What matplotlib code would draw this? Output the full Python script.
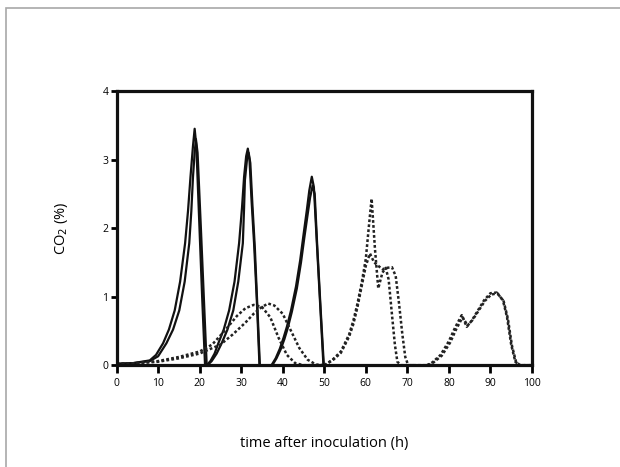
import matplotlib
matplotlib.use("Agg")
import matplotlib.pyplot as plt
from matplotlib.patches import Rectangle

# solid curves (three peaks, two runs each)
solid_a1_x = [0, 4, 8, 9.5, 11.2, 12.6, 14.0, 15.3, 16.5, 17.2, 17.8, 18.4, 18.8, 19.2, 19.9, 20.6, 21.3]
solid_a1_y = [0.02, 0.03, 0.07, 0.15, 0.32, 0.52, 0.8, 1.22, 1.78, 2.25, 2.75, 3.2, 3.45, 3.2, 2.1, 1.0, 0.0]
solid_a2_x = [0, 4, 8, 10, 12.0, 13.6, 15.1, 16.4, 17.5, 18.0, 18.4, 18.8, 19.1, 19.5, 20.3, 21.0, 21.7]
solid_a2_y = [0.02, 0.03, 0.06, 0.13, 0.32, 0.52, 0.8, 1.22, 1.78, 2.25, 2.75, 3.1, 3.3, 3.1, 2.0, 1.0, 0.0]

solid_b1_x = [21.7, 22.6, 23.6, 24.5, 25.8, 27.1, 28.4, 29.5, 30.2, 30.7, 31.2, 31.6, 32.0, 32.5, 33.1, 33.8, 34.4]
solid_b1_y = [0.0, 0.06, 0.17, 0.32, 0.52, 0.8, 1.22, 1.78, 2.3, 2.75, 3.05, 3.16, 3.0, 2.4, 1.78, 0.9, 0.0]
solid_b2_x = [21.9, 22.9, 24.1, 25.3, 26.7, 28.1, 29.3, 30.4, 30.7, 30.9, 31.4, 31.8, 32.2, 32.7, 33.3, 33.9, 34.5]
solid_b2_y = [0.0, 0.06, 0.17, 0.32, 0.52, 0.8, 1.22, 1.78, 2.3, 2.7, 3.0, 3.1, 2.95, 2.35, 1.7, 0.85, 0.0]

solid_c1_x = [37.3, 38.3, 39.3, 40.2, 41.0, 42.0, 43.2, 44.2, 45.0, 45.8, 46.4, 47.0, 47.5, 48.2, 49.0, 49.8]
solid_c1_y = [0.0, 0.1, 0.24, 0.4, 0.56, 0.8, 1.15, 1.53, 1.9, 2.26, 2.55, 2.75, 2.6, 1.8, 0.9, 0.0]
solid_c2_x = [37.5, 38.5, 39.5, 40.4, 41.2, 42.2, 43.4, 44.4, 45.2, 46.0, 46.6, 47.2, 47.7, 48.3, 49.1, 49.9]
solid_c2_y = [0.0, 0.1, 0.23, 0.38, 0.54, 0.78, 1.12, 1.5, 1.86, 2.2, 2.45, 2.62, 2.5, 1.75, 0.85, 0.0]

# dotted curves
dot_a1_x = [0, 5, 10, 15, 20, 23, 26, 29, 31, 33, 35, 37, 39, 41, 43, 45, 50]
dot_a1_y = [0.02, 0.03, 0.06, 0.12, 0.2, 0.3, 0.5, 0.72, 0.83, 0.88, 0.85, 0.7, 0.4, 0.15, 0.03, 0.0, 0.0]
dot_a2_x = [0, 5, 10, 15, 20, 25, 28, 31, 33, 35, 36.5, 38, 40, 42, 44, 46, 48, 50]
dot_a2_y = [0.02, 0.03, 0.05, 0.1, 0.17, 0.3, 0.45, 0.62, 0.75, 0.85, 0.9, 0.87, 0.75, 0.5, 0.25, 0.08, 0.01, 0.0]

dot_b1_x = [50, 52, 54, 56, 57, 58, 59, 60, 60.7, 61.4, 62.2, 63.0, 64.0, 64.8, 65.5, 66.2, 67.0, 67.6, 68.5, 70, 72]
dot_b1_y = [0.0, 0.08, 0.2, 0.45, 0.65, 0.9, 1.2, 1.55, 2.0, 2.43, 1.7, 1.12, 1.35, 1.42, 1.25, 0.8, 0.3, 0.05, 0.0, 0.0, 0.0]
dot_b2_x = [50, 52, 54, 56, 57, 58, 59, 60, 61, 62, 63, 64, 65, 66.3, 67.2, 68, 68.8, 69.5, 70.2, 72, 75]
dot_b2_y = [0.0, 0.07, 0.18, 0.42, 0.6, 0.85, 1.15, 1.45, 1.63, 1.5, 1.45, 1.4, 1.42, 1.43, 1.3, 0.9, 0.45, 0.12, 0.0, 0.0, 0.0]

dot_c1_x = [74.7, 76, 78, 80, 81.5, 83.1, 84.3, 85.5, 87, 88.5, 90, 91.5, 93, 94, 95, 96, 97, 100]
dot_c1_y = [0.0, 0.04, 0.15, 0.35, 0.55, 0.73, 0.56, 0.65, 0.8, 0.95, 1.05, 1.06, 0.95, 0.7, 0.3, 0.05, 0.0, 0.0]
dot_c2_x = [75, 76.3, 78.3, 80.3, 81.8, 83.3, 84.5, 85.7, 87.2, 88.7, 90.2, 91.7, 93.2, 94.2, 95.2, 96.2, 97.2, 100]
dot_c2_y = [0.0, 0.04, 0.14, 0.33, 0.53, 0.7, 0.58, 0.66, 0.8, 0.94, 1.03, 1.05, 0.93, 0.68, 0.28, 0.04, 0.0, 0.0]

x_ticks = [0, 10, 20, 30, 40, 50, 60, 70, 80, 90, 100]
y_ticks = [0, 1, 2, 3, 4]

plt.rcParams['font.family'] = ['Open Sans', 'DejaVu Sans']

fig = plt.figure(figsize=(6.2, 4.67), dpi=100)
ax = fig.add_axes([0.188, 0.218, 0.67, 0.587])

solids = [(solid_a1_x, solid_a1_y), (solid_a2_x, solid_a2_y),
          (solid_b1_x, solid_b1_y), (solid_b2_x, solid_b2_y),
          (solid_c1_x, solid_c1_y), (solid_c2_x, solid_c2_y)]
dots = [(dot_a1_x, dot_a1_y), (dot_a2_x, dot_a2_y),
        (dot_b1_x, dot_b1_y), (dot_b2_x, dot_b2_y),
        (dot_c1_x, dot_c1_y), (dot_c2_x, dot_c2_y)]

for x, y in solids:
    ax.plot(x, y, color='#111111', lw=1.6, solid_joinstyle='round')
for x, y in dots:
    ax.plot(x, y, color='#222222', lw=1.8, linestyle=(0, (1.1, 0.9)))

ax.set_xlim(0, 100)
ax.set_ylim(0, 4)
ax.set_xticks(x_ticks)
ax.set_yticks(y_ticks)
for s in ax.spines.values():
    s.set_linewidth(2.3)
    s.set_color('#111111')
ax.tick_params(axis='x', direction='out', length=6, width=2, labelsize=7.5, pad=3)
ax.tick_params(axis='y', direction='out', length=4, width=2, labelsize=7.5, pad=2)

ax.set_xlabel('time after inoculation (h)', fontsize=10.5)
ax.xaxis.set_label_coords(0.5, -0.26)
ax.set_ylabel(r'CO$_2$ (%)', fontsize=10.5)
ax.yaxis.set_label_coords(-0.112, 0.5)

# grey frame around the figure (top and left edges visible)
fig.patches.append(Rectangle((6 / 620, -0.1), 1.2, 1.1 - 8 / 467, transform=fig.transFigure,
                             fill=False, edgecolor='#a8a8a8', lw=1.2))

fig.savefig('out.png', dpi=100)
